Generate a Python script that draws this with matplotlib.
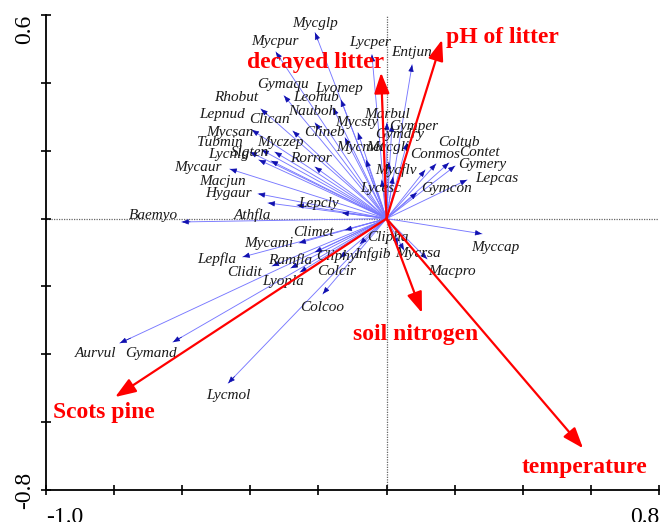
import matplotlib
matplotlib.use("Agg")
import matplotlib.pyplot as plt
import numpy as np

# species scores (arrow tips) and label anchor points
species = ["Mycglp", "Mycpur", "Lycper", "Entjun", "Gymaqu", "Lyomep", "Rhobut", "Leohub",
           "Nauboh", "Lepnud", "Clican", "Clineb", "Mycsty", "Mycsan", "Tubmin", "Myczep",
           "Lycnlg", "Slgten", "Rorror", "Mycaur", "Macjun", "Hygaur", "Lepcly", "Athfla",
           "Baemyo", "Mycmet", "Macgli", "Marbul", "Gymper", "Gymdry", "Coltub", "Conmos",
           "Contet", "Gymery", "Lepcas", "Mycflv", "Gymcon", "Lycesc", "Climet", "Mycami",
           "Lepfla", "Ramfla", "Cliphy", "Infgib", "Clipha", "Mycrsa", "Macpro", "Myccap",
           "Clidit", "Lyopla", "Colcir", "Colcoo", "Aurvul", "Gymand", "Lycmol"]
sp_x = [-0.210, -0.325, -0.043, 0.075, -0.301, -0.134, -0.369, -0.157,
        -0.210, -0.395, -0.275, -0.122, -0.084, -0.366, -0.401, -0.328,
        -0.375, -0.339, -0.210, -0.460, -0.348, -0.377, -0.263, -0.131,
        -0.601, -0.060, 0.007, 0.001, 0.016, 0.060, 0.145, 0.113,
        0.183, 0.201, 0.236, 0.019, 0.089, -0.014, -0.122, -0.257,
        -0.422, -0.336, -0.210, -0.078, 0.033, 0.051, 0.119, 0.280,
        -0.281, -0.254, -0.137, -0.187, -0.783, -0.627, -0.465]
sp_y = [0.548, 0.491, 0.483, 0.453, 0.362, 0.350, 0.323, 0.326,
        0.282, 0.261, 0.258, 0.238, 0.253, 0.202, 0.196, 0.196,
        0.173, 0.170, 0.152, 0.146, 0.046, 0.073, 0.040, 0.017,
        -0.010, 0.173, 0.167, 0.282, 0.276, 0.223, 0.161, 0.143,
        0.164, 0.155, 0.114, 0.123, 0.076, 0.114, -0.034, -0.072,
        -0.113, -0.140, -0.099, -0.075, -0.078, -0.093, -0.119, -0.045,
        -0.146, -0.158, -0.116, -0.222, -0.367, -0.364, -0.485]
lab_x = [-0.210, -0.328, -0.049, 0.072, -0.304, -0.140, -0.442, -0.207,
         -0.219, -0.483, -0.345, -0.181, -0.087, -0.460, -0.489, -0.313,
         -0.465, -0.401, -0.222, -0.554, -0.483, -0.463, -0.201, -0.395,
         -0.686, -0.078, 0.004, 0.001, 0.080, 0.039, 0.212, 0.142,
         0.274, 0.280, 0.324, 0.028, 0.177, -0.016, -0.216, -0.345,
         -0.498, -0.284, -0.148, -0.043, 0.004, 0.092, 0.192, 0.318,
         -0.416, -0.304, -0.146, -0.190, -0.853, -0.691, -0.465]
lab_y = [0.574, 0.521, 0.518, 0.489, 0.394, 0.382, 0.356, 0.356,
         0.317, 0.306, 0.291, 0.253, 0.282, 0.253, 0.223, 0.223,
         0.188, 0.196, 0.176, 0.152, 0.108, 0.073, 0.043, 0.011,
         0.008, 0.208, 0.208, 0.306, 0.270, 0.247, 0.223, 0.188,
         0.194, 0.158, 0.117, 0.143, 0.090, 0.090, -0.040, -0.072,
         -0.119, -0.122, -0.113, -0.104, -0.057, -0.104, -0.157, -0.084,
         -0.160, -0.184, -0.155, -0.261, -0.399, -0.399, -0.520]

# environmental variables
env = ["decayed litter", "pH of litter", "soil nitrogen", "temperature", "Scots pine"]
env_x = [-0.016, 0.163, 0.104, 0.577, -0.797]
env_y = [0.430, 0.527, -0.278, -0.677, -0.526]
env_lab_x = [-0.207, 0.339, 0.084, 0.580, -0.831]
env_lab_y = [0.459, 0.533, -0.343, -0.733, -0.573]

fig = plt.figure(figsize=(6.61, 5.22), dpi=100)
ax = fig.add_axes([46/661, 32/522, 613/661, 475/522])
ax.set_xlim(-1.0, 0.8)
ax.set_ylim(-0.8, 0.6)

serif = ["Liberation Serif", "DejaVu Serif"]

ax.axhline(0, color="#666666", lw=0.9, ls=(0, (1, 1)), zorder=1)
ax.axvline(0, color="#666666", lw=0.9, ls=(0, (1, 1)), zorder=1)

for name, x, y, lx, ly in zip(species, sp_x, sp_y, lab_x, lab_y):
    ax.plot([0, x], [0, y], color="#7878ff", lw=0.65, zorder=2)
    ax.annotate("", xy=(x, y), xytext=(x * 0.96, y * 0.96),
                arrowprops=dict(arrowstyle="-|>,head_length=0.5,head_width=0.2",
                                color="#1010b0", lw=0.5, shrinkA=0, shrinkB=0,
                                mutation_scale=8), zorder=3)
    ax.text(lx, ly, name, family=serif, style="italic", fontsize=11,
            color="#1a1a1a", ha="center", va="center", zorder=4)

for name, x, y, lx, ly in zip(env, env_x, env_y, env_lab_x, env_lab_y):
    ax.annotate("", xy=(x, y), xytext=(0, 0),
                arrowprops=dict(arrowstyle="-|>,head_length=0.9,head_width=0.33",
                                color="#ff0000", lw=1.6, shrinkA=0, shrinkB=0,
                                mutation_scale=14), zorder=5)
    ax.text(lx, ly, name, family=serif, weight="bold", fontsize=17,
            color="#ff0000", ha="center", va="center", zorder=6)

for s in ["top", "right"]:
    ax.spines[s].set_visible(False)
for s in ["left", "bottom"]:
    ax.spines[s].set_linewidth(1.3)

xt = np.round(np.arange(-1.0, 0.81, 0.2), 1)
yt = np.round(np.arange(-0.8, 0.61, 0.2), 1)
ax.set_xticks(xt)
ax.set_yticks(yt)
ax.set_xticklabels(["-1.0"] + [""] * (len(xt) - 2) + ["0.8"], family=serif, fontsize=17)
ax.set_yticklabels(["-0.8"] + [""] * (len(yt) - 2) + ["0.6"], family=serif, fontsize=17,
                   rotation=90, va="center")
ax.tick_params(direction="inout", length=7, width=1.2)
ax.tick_params(axis="x", pad=9)
ax.tick_params(axis="y", pad=4)
xl = ax.get_xticklabels()
xl[0].set_ha("left")
xl[-1].set_ha("right")
yl = ax.get_yticklabels()
yl[-1].set_va("top")

fig.savefig("out.png", dpi=100)
